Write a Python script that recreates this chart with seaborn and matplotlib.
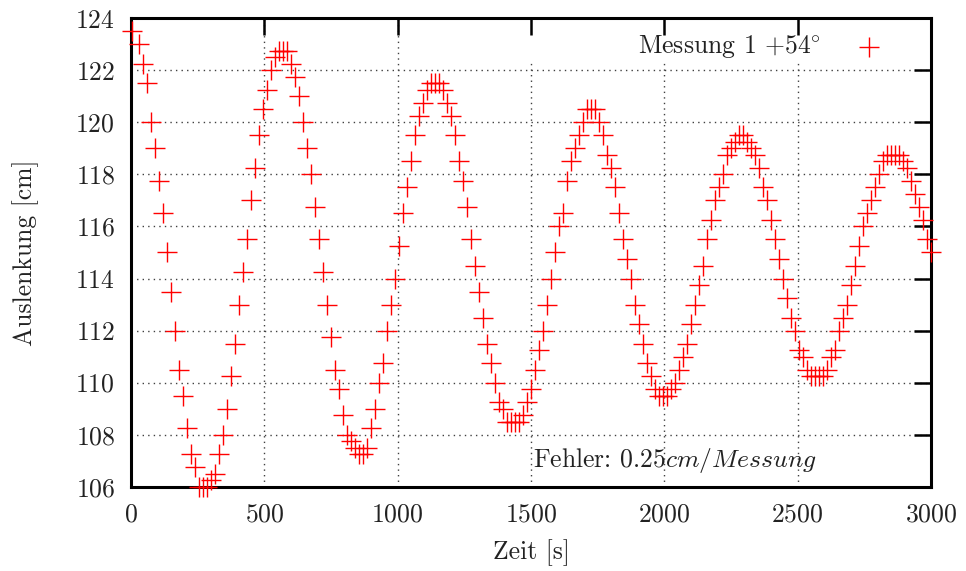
import matplotlib
matplotlib.use("Agg")
import matplotlib.pyplot as plt
from matplotlib.patches import Rectangle
import pandas as pd
import seaborn as sns

OUTPUT_PNG = "out.png"

zeit_s = [
    5, 30, 45, 60, 75, 90, 105, 120, 135, 150,
    165, 180, 195, 210, 225, 240, 255, 270, 285, 300,
    315, 330, 345, 360, 375, 390, 405, 420, 435, 450,
    465, 480, 495, 510, 525, 540, 555, 570, 585, 600,
    615, 630, 645, 660, 675, 690, 705, 720, 735, 750,
    765, 780, 795, 810, 825, 840, 855, 870, 885, 900,
    915, 930, 945, 960, 975, 990, 1005, 1020, 1035, 1050,
    1065, 1080, 1095, 1110, 1125, 1140, 1155, 1170, 1185, 1200,
    1215, 1230, 1245, 1260, 1275, 1290, 1305, 1320, 1335, 1350,
    1365, 1380, 1395, 1410, 1425, 1440, 1455, 1470, 1485, 1500,
    1515, 1530, 1545, 1560, 1575, 1590, 1605, 1620, 1635, 1650,
    1665, 1680, 1695, 1710, 1725, 1740, 1755, 1770, 1785, 1800,
    1815, 1830, 1845, 1860, 1875, 1890, 1905, 1920, 1935, 1950,
    1965, 1980, 1995, 2010, 2025, 2040, 2055, 2070, 2085, 2100,
    2115, 2130, 2145, 2160, 2175, 2190, 2205, 2220, 2235, 2250,
    2265, 2280, 2295, 2310, 2325, 2340, 2355, 2370, 2385, 2400,
    2415, 2430, 2445, 2460, 2475, 2490, 2505, 2520, 2535, 2550,
    2565, 2580, 2595, 2610, 2625, 2640, 2655, 2670, 2685, 2700,
    2715, 2730, 2745, 2760, 2775, 2790, 2805, 2820, 2835, 2850,
    2865, 2880, 2895, 2910, 2925, 2940, 2955, 2970, 2985, 3000,
]

auslenkung_cm = [
    123.5, 123.0, 122.25, 121.5, 120.0, 119.0, 117.75, 116.5, 115.0, 113.5,
    112.0, 110.5, 109.5, 108.25, 107.25, 106.75, 106.0, 106.0, 106.0, 106.25,
    106.5, 107.25, 108.0, 109.0, 110.25, 111.5, 113.0, 114.25, 115.5, 117.0,
    118.25, 119.5, 120.5, 121.25, 122.0, 122.5, 122.75, 122.75, 122.75, 122.25,
    121.75, 121.0, 120.0, 119.0, 118.0, 116.75, 115.5, 114.25, 113.0, 111.75,
    110.5, 109.75, 108.75, 108.0, 107.75, 107.5, 107.25, 107.25, 107.5, 108.25,
    109.0, 110.0, 110.75, 112.0, 113.0, 114.0, 115.25, 116.5, 117.5, 118.5,
    119.5, 120.25, 120.75, 121.25, 121.5, 121.5, 121.5, 121.25, 120.75, 120.25,
    119.5, 118.5, 117.75, 116.75, 115.5, 114.5, 113.5, 112.5, 111.5, 110.75,
    110.0, 109.25, 109.0, 108.5, 108.5, 108.5, 108.5, 108.75, 109.25, 109.75,
    110.5, 111.25, 112.0, 113.0, 114.0, 115.0, 116.0, 116.5, 117.75, 118.5,
    119.0, 119.5, 120.0, 120.5, 120.5, 120.5, 120.0, 119.5, 118.75, 118.25,
    117.5, 116.5, 115.5, 114.75, 114.0, 113.0, 112.25, 111.5, 110.75, 110.25,
    109.75, 109.5, 109.5, 109.5, 109.75, 110.0, 110.5, 111.0, 111.5, 112.25,
    113.0, 113.75, 114.5, 115.5, 116.25, 117.0, 117.5, 118.0, 118.75, 119.0,
    119.25, 119.5, 119.5, 119.25, 119.0, 118.75, 118.25, 117.5, 117.0, 116.25,
    115.5, 114.75, 114.0, 113.25, 112.5, 112.0, 111.25, 111.0, 110.5, 110.25,
    110.25, 110.25, 110.25, 110.5, 111.0, 111.25, 112.0, 112.5, 113.0, 113.75,
    114.5, 115.25, 116.0, 116.5, 117.0, 117.5, 118.0, 118.5, 118.75, 118.75,
    118.75, 118.75, 118.5, 118.25, 117.75, 117.25, 116.75, 116.25, 115.5, 115.0,
]

x_ticks = [0, 500, 1000, 1500, 2000, 2500, 3000]
y_ticks = [106, 108, 110, 112, 114, 116, 118, 120, 122, 124]

LEGEND_LABEL = r"Messung 1 $+54\!^\circ$"
FEHLER_TEXT = r"Fehler: 0.25$cm/Messung$"

# ── Stil ──────────────────────────────────────────
sns.set_theme(style="white")
plt.rcParams.update({
    "font.family": "cmr10",
    "mathtext.fontset": "cm",
    "axes.unicode_minus": False,
    "axes.formatter.use_mathtext": True,
})

FS = 18.5
TXT = "#222222"
GRID_KW = dict(linestyle=(0, (1, 3)), linewidth=1.0, color="0.25", zorder=0.6)

fig = plt.figure(figsize=(9.66, 5.71), dpi=100)
ax = fig.add_axes([0.1356, 0.1476, 0.8282, 0.8204])

df = pd.DataFrame({"Zeit": zeit_s, "Auslenkung": auslenkung_cm})
sns.scatterplot(data=df, x="Zeit", y="Auslenkung", ax=ax,
                marker="+", color="red", s=190, linewidth=1.0,
                clip_on=False, zorder=3, label=LEGEND_LABEL)

ax.set_xlim(0, 3000)
ax.set_ylim(106, 124)
ax.set_xticks(x_ticks)
ax.set_yticks(y_ticks)

# gnuplot-artiges Gitter (gepunktet), von der Legende verdeckt
ax.grid(False)
ax.set_axisbelow(False)
for xt in x_ticks[1:-1]:
    ax.axvline(xt, **GRID_KW)
for yt in y_ticks[1:-1]:
    ax.axhline(yt, **GRID_KW)
ax.add_patch(Rectangle((0.46, 0.907), 0.54, 0.093, transform=ax.transAxes,
                       facecolor="white", edgecolor="none", zorder=0.8))

ax.tick_params(direction="in", length=12, width=1.8, top=True, right=True,
               labelsize=FS, pad=11.5, colors="black")
ax.tick_params(axis="x", labelcolor=TXT)
ax.tick_params(axis="y", labelcolor=TXT)
for sp in ax.spines.values():
    sp.set_linewidth(2.2)
    sp.set_color("black")
    sp.set_zorder(2.6)

ax.set_xlabel("Zeit [s]", fontsize=FS, labelpad=9, color=TXT)
ax.set_ylabel("Auslenkung [cm]", fontsize=FS, labelpad=26, color=TXT)

ax.text(0.5025, 0.057, FEHLER_TEXT, transform=ax.transAxes,
        fontsize=FS, ha="left", va="center", color=TXT)

leg = ax.legend(loc="upper right", bbox_to_anchor=(0.9643, 0.984),
                markerfirst=False, frameon=False, fontsize=FS,
                borderaxespad=0.0, borderpad=0.3,
                handletextpad=0.9, handlelength=2.0)
for t in leg.get_texts():
    t.set_color(TXT)

fig.savefig(OUTPUT_PNG, dpi=100)
plt.close(fig)
